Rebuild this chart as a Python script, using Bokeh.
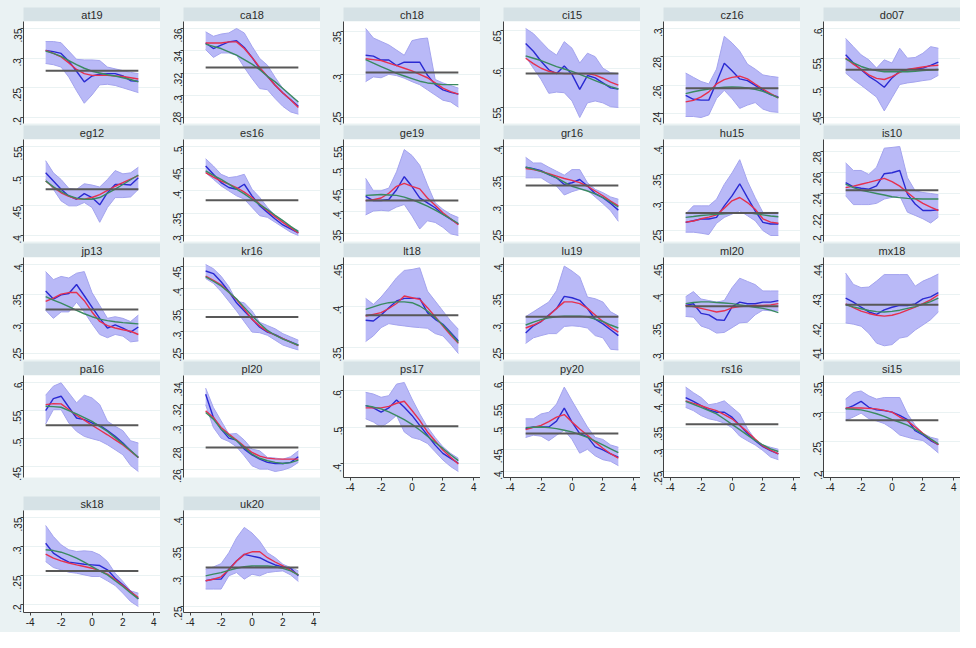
import math
from bokeh.plotting import figure
from bokeh.layouts import gridplot
from bokeh.models import Range1d, FixedTicker
from bokeh.core.properties import value
from bokeh.embed import file_html
from bokeh.resources import INLINE

# ---------------- data ----------------
X_BINS = [-3.0, -2.5, -2.0, -1.5, -1.0, -0.5, 0.0, 0.5, 1.0, 1.5, 2.0, 2.5, 3.0]
X_TICK_LABELS = ["-4", "-2", "0", "2", "4"]

at19_ticks = [".2", ".25", ".3", ".35"]
at19_mean = 0.279
at19_hi = [.328, .328, .326, .312, .298, .297, .297, .296, .285, .282, .279, .276, .274]
at19_lo = [.291, .289, .285, .268, .245, .224, .238, .255, .256, .254, .250, .246, .242]
at19_blue = [.313, .311, .308, .295, .278, .260, .270, .273, .274, .274, .270, .262, .261]
at19_red = [.313, .308, .302, .292, .281, .274, .271, .271, .271, .270, .269, .267, .265]
at19_green = [.312, .308, .303, .296, .289, .283, .278, .275, .272, .270, .267, .264, .260]

ca18_ticks = [".28", ".3", ".32", ".34", ".36"]
ca18_mean = 0.325
ca18_hi = [.357, .353, .355, .356, .360, .356, .344, .333, .327, .316, .306, .299, .294]
ca18_lo = [.341, .334, .338, .338, .336, .325, .315, .306, .305, .297, .290, .285, .283]
ca18_blue = [.347, .342, .345, .348, .349, .343, .334, .324, .317, .309, .302, .296, .290]
ca18_red = [.347, .347, .347, .348, .348, .342, .334, .325, .317, .309, .302, .296, .289]
ca18_green = [.346, .344, .342, .339, .336, .332, .328, .323, .317, .312, .306, .300, .294]

ch18_ticks = [".25", ".3", ".35"]
ch18_mean = 0.302
ch18_hi = [.353, .342, .338, .334, .328, .322, .339, .341, .342, .294, .290, .287, .284]
ch18_lo = [.2915, .297, .296, .300, .2985, .2955, .2915, .288, .282, .276, .270, .268, .262]
ch18_blue = [.322, .321, .3165, .3165, .310, .314, .314, .314, .299, .288, .282, .279, .277]
ch18_red = [.318, .317, .316, .313, .310, .307, .304, .300, .296, .290, .284, .280, .277]
ch18_green = [.317, .313, .309, .305, .301, .298, .295, .292, .290, .289, .288, .288, .288]

ci15_ticks = [".55", ".6", ".65"]
ci15_mean = 0.594
ci15_hi = [.6526, .646, .6355, .625, .618, .6355, .627, .6077, .6205, .616, .601, .595, .594]
ci15_lo = [.616, .601, .5863, .5684, .570, .5692, .5585, .537, .556, .5585, .556, .551, .550]
ci15_blue = [.633, .623, .610, .599, .594, .604, .593, .5735, .5915, .5885, .582, .5755, .574]
ci15_red = [.614, .607, .601, .597, .595, .594, .594, .594, .594, .592, .588, .583, .579]
ci15_green = [.617, .614, .611, .607, .603, .600, .597, .593, .589, .585, .581, .577, .574]

cz16_ticks = [".24", ".26", ".28", ".3"]
cz16_mean = 0.258
cz16_hi = [.2687, .2657, .2628, .2611, .2715, .2945, .2899, .2841, .275, .2715, .2674, .2664, .2657]
cz16_lo = [.2382, .2382, .2375, .2393, .2508, .2566, .2508, .2439, .2462, .248, .2434, .2416, .2411]
cz16_blue = [.2531, .2503, .2497, .2497, .2623, .2756, .2703, .2646, .2634, .26, .2566, .2536, .252]
cz16_red = [.2485, .2495, .252, .2555, .2611, .2641, .2657, .2665, .2646, .261, .2575, .2543, .2513]
cz16_green = [.2543, .2556, .2566, .2575, .2582, .2587, .2589, .2588, .2582, .2573, .2559, .2538, .2513]

do07_ticks = [".45", ".5", ".55", ".6"]
do07_mean = 0.5306
do07_hi = [.5833, .5694, .5556, .5472, .5333, .5472, .5417, .5667, .55, .5511, .5583, .5694, .5667]
do07_lo = [.525, .5139, .5044, .4944, .4844, .4611, .4833, .5056, .5083, .51, .5122, .5139, .5211]
do07_blue = [.5556, .5417, .5306, .5194, .5111, .5011, .5167, .5278, .5306, .5322, .5333, .5378, .5433]
do07_red = [.550, .540, .531, .522, .516, .514, .519, .526, .531, .533, .535, .537, .538]
do07_green = [.549, .542, .536, .532, .529, .527, .527, .527, .527, .528, .529, .530, .531]

eg12_ticks = [".4", ".45", ".5", ".55"]
eg12_mean = 0.478
eg12_hi = [.5261, .5056, .4944, .4794, .4778, .4872, .485, .4817, .4944, .5094, .5039, .5056, .515]
eg12_lo = [.4944, .4778, .4583, .45, .45, .4556, .4472, .4222, .4472, .4639, .4639, .465, .4778]
eg12_blue = [.5056, .4917, .4778, .4667, .4611, .4706, .4639, .4517, .4722, .4861, .4861, .485, .4972]
eg12_red = [.492, .481, .472, .466, .462, .461, .464, .469, .476, .483, .489, .495, .501]
eg12_green = [.492, .482, .474, .467, .463, .461, .461, .464, .471, .478, .486, .494, .502]

es16_ticks = [".3", ".35", ".4", ".45", ".5"]
es16_mean = 0.379
es16_hi = [.4724, .456, .4373, .4299, .4321, .4373, .4037, .3851, .3627, .344, .3328, .3179, .3104]
es16_lo = [.441, .4261, .4112, .40, .3888, .3813, .3627, .344, .3403, .3291, .3179, .3067, .2993]
es16_blue = [.456, .4373, .4187, .4075, .4037, .4149, .3888, .3664, .3515, .3366, .3231, .3142, .3052]
es16_red = [.441, .431, .422, .415, .4075, .397, .385, .370, .355, .342, .329, .317, .305]
es16_green = [.445, .435, .426, .415, .404, .393, .381, .369, .3575, .345, .333, .320, .308]

ge19_ticks = [".35", ".4", ".45", ".5", ".55"]
ge19_mean = 0.425
ge19_hi = [.4764, .4477, .4477, .4538, .4915, .5428, .5292, .5066, .4613, .4198, .4047, .3934, .3858]
ge19_lo = [.3919, .4009, .4025, .4009, .41, .416, .3896, .3594, .3783, .3745, .3632, .3481, .3443]
ge19_blue = [.4349, .4251, .4251, .4274, .45, .4802, .4575, .4311, .4198, .4085, .3934, .3821, .3708]
ge19_red = [.425, .427, .431, .442, .458, .465, .458, .452, .431, .414, .397, .383, .369]
ge19_green = [.437, .438, .439, .438, .437, .433, .427, .420, .412, .403, .393, .383, .372]

gr16_ticks = [".25", ".3", ".35", ".4"]
gr16_mean = 0.3344
gr16_hi = [.3817, .3722, .3722, .365, .3583, .3517, .3611, .3611, .3389, .3278, .3222, .315, .3111]
gr16_lo = [.3472, .3472, .3472, .3389, .3333, .3183, .3239, .3278, .3261, .315, .3039, .2917, .2739]
gr16_blue = [.365, .3628, .3594, .3528, .3472, .3361, .3389, .3444, .3333, .3206, .3139, .3039, .2928]
gr16_red = [.363, .361, .358, .354, .350, .346, .343, .339, .333, .325, .317, .308, .300]
gr16_green = [.365, .362, .358, .353, .347, .340, .333, .329, .325, .320, .314, .306, .298]

hu15_ticks = [".25", ".3", ".35", ".4"]
hu15_mean = 0.2812
hu15_hi = [.2794, .2941, .2941, .2941, .3059, .3324, .3529, .3765, .3382, .3088, .2824, .2824, .2824]
hu15_lo = [.2471, .2471, .2453, .2429, .2629, .2735, .2794, .2853, .2765, .2676, .25, .2412, .2412]
hu15_blue = [.2647, .2676, .2706, .2706, .2735, .2941, .3118, .3335, .3088, .2853, .2647, .2618, .2618]
hu15_red = [.265, .267, .271, .274, .278, .290, .303, .309, .300, .288, .271, .265, .263]
hu15_green = [.2735, .275, .277, .278, .279, .280, .281, .282, .282, .280, .278, .276, .2747]

is10_ticks = [".2", ".22", ".24", ".26", ".28"]
is10_mean = 0.2431
is10_hi = [.2691, .2619, .2619, .2581, .265, .2831, .2838, .2847, .255, .2425, .2409, .24, .2388]
is10_lo = [.2378, .2294, .2294, .2294, .2306, .2347, .2363, .2378, .2222, .2191, .2159, .2119, .2175]
is10_blue = [.2503, .2463, .245, .2441, .2472, .2588, .2597, .2619, .2394, .23, .2238, .2238, .2244]
is10_red = [.2456, .2470, .2488, .2506, .2525, .2544, .2512, .2470, .2410, .2350, .2306, .2270, .2238]
is10_green = [.2488, .2455, .2431, .2415, .240, .2385, .2369, .236, .2353, .2350, .2347, .2347, .2347]

jp13_ticks = [".25", ".3", ".35", ".4"]
jp13_mean = 0.324
jp13_hi = [.388, .3745, .3799, .3772, .3853, .388, .3527, .331, .3092, .312, .3092, .3038, .3147]
jp13_lo = [.3228, .3092, .3201, .3201, .3364, .3201, .30, .2821, .2766, .2821, .2793, .2696, .2712]
jp13_blue = [.3554, .3418, .3489, .3511, .3663, .3473, .3283, .3092, .2929, .2984, .2929, .2859, .2946]
jp13_red = [.338, .3435, .350, .3527, .3527, .339, .320, .304, .297, .293, .290, .2875, .282]
jp13_green = [.3457, .340, .3348, .329, .3228, .317, .312, .308, .3054, .3035, .302, .301, .300]

kr16_ticks = [".25", ".3", ".35", ".4", ".45"]
kr16_mean = 0.334
kr16_hi = [.4545, .4448, .4276, .4037, .3701, .3664, .3478, .3216, .3142, .3067, .2955, .2881, .2806]
kr16_lo = [.4224, .4112, .3925, .3701, .3478, .3231, .2993, .2978, .2918, .2806, .2694, .2634, .2582]
kr16_blue = [.4396, .4336, .4149, .3925, .3664, .3478, .3291, .3104, .2993, .2933, .2843, .2769, .2694]
kr16_red = [.4276, .418, .4075, .391, .374, .352, .329, .313, .301, .292, .284, .276, .268]
kr16_green = [.4261, .416, .4052, .391, .375, .356, .337, .319, .303, .292, .283, .276, .269]

lt18_ticks = [".35", ".4", ".45"]
lt18_mean = 0.389
lt18_hi = [.4092, .402, .4108, .422, .434, .4428, .444, .446, .418, .406, .394, .382, .372]
lt18_lo = [.3572, .364, .374, .3788, .3772, .376, .3748, .374, .3732, .3668, .364, .354, .3428]
lt18_blue = [.3828, .382, .3892, .398, .406, .4092, .4092, .4092, .392, .384, .378, .368, .358]
lt18_red = [.388, .390, .392, .397, .403, .412, .410, .408, .398, .387, .376, .365, .355]
lt18_green = [.396, .399, .402, .404, .405, .405, .404, .400, .394, .386, .377, .367, .356]

lu19_ticks = [".25", ".3", ".35", ".4"]
lu19_mean = 0.312
lu19_hi = [.3121, .3203, .3286, .3368, .356, .3973, .389, .3791, .3451, .3423, .3368, .3203, .3132]
lu19_lo = [.267, .2764, .2802, .2835, .2835, .2956, .2967, .2956, .2929, .2802, .2764, .2571, .256]
lu19_blue = [.2846, .2967, .3038, .3148, .3258, .3462, .344, .3396, .3258, .3077, .30, .2901, .2802]
lu19_red = [.293, .298, .304, .314, .326, .337, .337, .334, .326, .315, .304, .294, .286]
lu19_green = [.298, .303, .307, .310, .312, .313, .313, .313, .312, .308, .304, .298, .293]

ml20_ticks = [".3", ".35", ".4", ".45"]
ml20_mean = 0.3796
ml20_hi = [.3957, .4043, .3919, .3892, .3866, .3892, .4108, .4269, .4215, .4161, .4054, .4054, .4054]
ml20_lo = [.3624, .3613, .3462, .3419, .3344, .3355, .3435, .3516, .3527, .3651, .3731, .372, .372]
ml20_blue = [.3812, .3839, .3677, .3651, .357, .3559, .3785, .3866, .3839, .3839, .3866, .3866, .3892]
ml20_red = [.381, .379, .376, .373, .370, .372, .377, .379, .380, .381, .381, .382, .384]
ml20_green = [.384, .386, .387, .387, .386, .385, .384, .382, .380, .378, .376, .373, .369]

mx18_ticks = [".41", ".42", ".43", ".44"]
mx18_mean = 0.4264
mx18_hi = [.4371, .4333, .4322, .4324, .4344, .4366, .4366, .4366, .4366, .4327, .4344, .4355, .4368]
mx18_lo = [.4203, .4199, .4192, .4168, .4135, .4126, .413, .4152, .4157, .4179, .4196, .4214, .424]
mx18_blue = [.4287, .4273, .4256, .424, .4232, .4247, .4256, .4262, .4262, .4267, .4284, .4291, .4305]
mx18_red = [.4267, .4255, .4243, .4235, .4229, .4226, .4229, .4236, .4246, .4256, .4268, .4281, .4298]
mx18_green = [.4264, .4257, .4251, .4245, .4241, .4240, .4242, .4246, .4252, .4258, .4266, .4275, .4287]

pa16_ticks = [".45", ".5", ".55", ".6"]
pa16_mean = 0.5238
pa16_hi = [.5774, .5935, .5994, .5815, .5637, .5774, .5726, .5607, .531, .522, .5143, .4964, .4923]
pa16_lo = [.5262, .5518, .5518, .528, .5131, .5042, .50, .4964, .4893, .4804, .4714, .4524, .4417]
pa16_blue = [.55, .5714, .5756, .556, .5369, .5339, .528, .5238, .5143, .5042, .4923, .4786, .4667]
pa16_red = [.5607, .5625, .5619, .552, .5417, .533, .524, .5155, .507, .498, .489, .478, .4667]
pa16_green = [.5577, .557, .556, .550, .544, .5375, .531, .522, .513, .502, .4905, .479, .4667]

pl20_ticks = [".26", ".28", ".3", ".32", ".34"]
pl20_mean = 0.280
pl20_hi = [.3348, .3169, .3046, .2923, .2929, .2868, .2785, .2769, .2708, .2702, .2692, .2714, .2769]
pl20_lo = [.3194, .2985, .2886, .2855, .2806, .2723, .2631, .26, .26, .2578, .2591, .2615, .2662]
pl20_blue = [.3292, .3077, .2969, .2886, .2868, .2785, .2732, .2692, .2662, .2652, .2652, .2662, .2714]
pl20_red = [.3138, .3077, .2985, .2925, .2868, .281, .2754, .272, .2702, .2695, .2692, .2692, .2692]
pl20_green = [.3123, .3062, .2969, .291, .2862, .280, .2738, .270, .2677, .2662, .2652, .2660, .2683]

ps17_ticks = [".4", ".5", ".6"]
ps17_mean = 0.5018
ps17_hi = [.5938, .5893, .5804, .5848, .6161, .6205, .5759, .5357, .50, .4714, .4464, .4286, .4152]
ps17_lo = [.5223, .5134, .50, .5134, .5313, .4866, .4714, .4661, .4554, .433, .4107, .3929, .3795]
ps17_blue = [.558, .5518, .5402, .5518, .5732, .5536, .5313, .5045, .4777, .4509, .4286, .4152, .4018]
ps17_red = [.5518, .5518, .5518, .556, .5643, .5696, .5446, .5179, .4866, .462, .4375, .418, .400]
ps17_green = [.558, .554, .549, .541, .531, .520, .507, .492, .475, .458, .442, .425, .409]

py20_ticks = [".4", ".45", ".5", ".55", ".6"]
py20_mean = 0.4853
py20_hi = [.5184, .5184, .5294, .5331, .5515, .5897, .5588, .5294, .50, .4765, .4721, .4596, .4544]
py20_lo = [.4765, .4816, .4794, .4691, .4816, .4926, .4721, .4412, .45, .4353, .4265, .4228, .4132]
py20_blue = [.4963, .50, .50, .50, .5132, .5426, .511, .4853, .4779, .4559, .4485, .4397, .4324]
py20_red = [.4941, .499, .5037, .512, .5221, .5279, .511, .4955, .4816, .466, .4522, .440, .4301]
py20_green = [.4985, .4995, .50, .4985, .4963, .4928, .489, .483, .4765, .468, .4596, .451, .4426]

rs16_ticks = [".25", ".3", ".35", ".4", ".45"]
rs16_mean = 0.3559
rs16_hi = [.4397, .4272, .4162, .40, .4029, .4088, .3941, .3794, .3463, .3221, .3096, .3044, .30]
rs16_lo = [.3941, .3868, .3757, .3684, .3647, .3588, .3485, .3294, .3191, .3096, .2971, .2824, .2765]
rs16_blue = [.4162, .4074, .3978, .3882, .3831, .3831, .3721, .3537, .3353, .3191, .3059, .2971, .2897]
rs16_red = [.4088, .403, .3978, .392, .3868, .378, .3684, .354, .339, .323, .3074, .298, .2897]
rs16_green = [.4074, .401, .3941, .387, .3794, .368, .3559, .344, .3316, .320, .3096, .301, .2949]

si15_ticks = [".2", ".25", ".3", ".35"]
si15_mean = 0.2863
si15_hi = [.322, .333, .3357, .3275, .322, .3247, .3247, .3247, .2973, .278, .2643, .2577, .2544]
si15_lo = [.2863, .2918, .2984, .289, .2852, .2808, .2725, .2615, .2577, .2544, .2522, .2423, .2313]
si15_blue = [.3055, .311, .3181, .3082, .3038, .3027, .30, .2945, .2874, .2687, .2615, .2522, .2451]
si15_red = [.3071, .3072, .3071, .3064, .3055, .303, .300, .2918, .2852, .275, .2643, .254, .2451]
si15_green = [.3055, .3048, .3038, .301, .2973, .293, .2874, .283, .278, .271, .2632, .255, .2467]

sk18_ticks = [".2", ".25", ".3", ".35"]
sk18_mean = 0.258
sk18_hi = [.3362, .3172, .3029, .2943, .2914, .2925, .2914, .2856, .2741, .254, .2397, .2236, .2195]
sk18_lo = [.2741, .2638, .2598, .2557, .254, .2511, .2483, .2483, .2408, .2328, .2195, .2052, .1966]
sk18_blue = [.3057, .2885, .2799, .273, .2713, .2695, .2684, .2672, .2598, .2454, .2339, .2224, .2098]
sk18_red = [.2868, .280, .2753, .2715, .2684, .2655, .2626, .258, .2523, .243, .2328, .222, .2121]
sk18_green = [.2943, .293, .2902, .2855, .2799, .273, .2655, .258, .2511, .241, .231, .220, .2098]

uk20_ticks = [".25", ".3", ".35", ".4"]
uk20_mean = 0.3156
uk20_hi = [.3128, .3167, .3222, .3406, .3656, .3833, .3739, .36, .3406, .3322, .3211, .3156, .31]
uk20_lo = [.2794, .2794, .2794, .3017, .3072, .2961, .3044, .3017, .3072, .3089, .31, .3033, .2922]
uk20_blue = [.2933, .2961, .2961, .3128, .3267, .3378, .335, .3322, .3256, .32, .3167, .3144, .3017]
uk20_red = [.2933, .296, .30, .312, .3267, .3378, .3422, .3422, .3322, .325, .3183, .311, .3033]
uk20_green = [.3017, .3045, .3072, .311, .3144, .317, .3183, .3185, .3183, .317, .3144, .310, .3033]

PANEL_NAMES = ["at19", "ca18", "ch18", "ci15", "cz16", "do07",
               "eg12", "es16", "ge19", "gr16", "hu15", "is10",
               "jp13", "kr16", "lt18", "lu19", "ml20", "mx18",
               "pa16", "pl20", "ps17", "py20", "rs16", "si15",
               "sk18", "uk20"]

# ---------------- style ----------------
BG = "#eaf2f3"
STRIP = "#d6e2e6"
BAND_FILL = "#b9b9f7"
BAND_EDGE = "#a4a4ee"
C_BLUE = "#2a2ad2"
C_RED = "#e6304e"
C_GREEN = "#3a8a60"
C_MEAN = "#585858"
AXIS_C = "#404040"
FONT = "Liberation Sans"

NCOLS = 6
COL_W = 160
LEFT = 23
STRIP_H = 14
TOP_PAD = 7
FRAME_H = 102
XPAD = 0.434

g = globals()


def make_strip(name, r):
    top = TOP_PAD if r == 0 else 0
    p = figure(width=COL_W, height=STRIP_H + top, title=None,
               x_range=Range1d(-1, 1), y_range=Range1d(-1, 1),
               x_axis_type=None, y_axis_type=None,
               toolbar_location=None, output_backend="svg",
               min_border_left=LEFT, min_border_right=0,
               min_border_top=top, min_border_bottom=0,
               background_fill_color=STRIP, border_fill_color=BG,
               outline_line_color=None)
    p.text(x=[0], y=[0], text=[name], text_align="center", text_baseline="middle",
           text_font=value(FONT), text_font_size="11px", text_color="#2a2a2a")
    return p


def make_panel(name, r, c):
    has_x = (r == 4) or (r == 3 and c >= 2)
    if r <= 2:
        bottom = 2
    elif r == 3:
        bottom = 19
    else:
        bottom = 20
    ticks_s = g[name + "_ticks"]
    ticks = [float(t) for t in ticks_s]
    mean = g[name + "_mean"]
    lo = g[name + "_lo"]
    hi = g[name + "_hi"]
    blue = g[name + "_blue"]
    red = g[name + "_red"]
    green = g[name + "_green"]
    allv = lo + hi + blue + red + green + ticks
    vmin, vmax = min(allv), max(allv)
    span = vmax - vmin
    y0 = vmin - span * 6.0 / 89.0
    y1 = vmax + span * 7.0 / 89.0
    xt = [float(t) for t in X_TICK_LABELS]
    p = figure(width=COL_W, height=FRAME_H + bottom, title=None,
               x_range=Range1d(min(xt) - XPAD, max(xt) + XPAD),
               y_range=Range1d(y0, y1),
               x_axis_type=("linear" if has_x else None),
               toolbar_location=None, output_backend="svg",
               min_border_left=LEFT, min_border_right=0,
               min_border_top=0, min_border_bottom=bottom,
               background_fill_color="white", border_fill_color=BG,
               outline_line_color=None)
    # y axis
    yax = p.yaxis[0]
    yax.ticker = FixedTicker(ticks=ticks)
    yax.major_label_overrides = {float(t): t for t in ticks_s}
    yax.major_label_orientation = math.pi / 2
    yax.major_label_text_font = FONT
    yax.major_label_text_font_size = "10px"
    yax.major_label_text_color = "#222222"
    yax.major_label_standoff = 3
    yax.major_tick_out = 3
    yax.major_tick_in = 0
    yax.minor_tick_out = 0
    yax.minor_tick_in = 0
    yax.minor_tick_line_color = None
    yax.axis_line_color = AXIS_C
    yax.major_tick_line_color = AXIS_C
    p.ygrid.ticker = FixedTicker(ticks=ticks)
    p.ygrid.grid_line_color = BG
    p.ygrid.grid_line_width = 1
    if has_x:
        xax = p.xaxis[0]
        xax.ticker = FixedTicker(ticks=xt)
        xax.major_label_overrides = {float(t): t for t in X_TICK_LABELS}
        xax.major_label_text_font = FONT
        xax.major_label_text_font_size = "10px"
        xax.major_label_text_color = "#222222"
        xax.major_label_standoff = 2
        xax.major_tick_out = 3
        xax.major_tick_in = 0
        xax.minor_tick_out = 0
        xax.minor_tick_in = 0
        xax.minor_tick_line_color = None
        xax.axis_line_color = AXIS_C
        xax.major_tick_line_color = AXIS_C
        p.xgrid.visible = False
    # marks
    p.varea(x=X_BINS, y1=lo, y2=hi, fill_color=BAND_FILL, fill_alpha=1.0)
    p.line(X_BINS, lo, line_color=BAND_EDGE, line_width=1)
    p.line(X_BINS, hi, line_color=BAND_EDGE, line_width=1)
    p.line(X_BINS, blue, line_color=C_BLUE, line_width=1.4)
    p.line(X_BINS, red, line_color=C_RED, line_width=1.4)
    p.line(X_BINS, green, line_color=C_GREEN, line_width=1.4)
    p.line([X_BINS[0], X_BINS[-1]], [mean, mean], line_color=C_MEAN, line_width=2)
    return p


def make_blank(h):
    p = figure(width=COL_W, height=h, title=None, x_axis_type=None, y_axis_type=None,
               toolbar_location=None, output_backend="svg",
               min_border_left=0, min_border_right=0, min_border_top=0, min_border_bottom=0,
               background_fill_color=BG, border_fill_color=BG, outline_line_color=None)
    return p


nrows = (len(PANEL_NAMES) + NCOLS - 1) // NCOLS
rows = []
for r in range(nrows):
    srow, prow = [], []
    for c in range(NCOLS):
        i = r * NCOLS + c
        if i < len(PANEL_NAMES):
            name = PANEL_NAMES[i]
            srow.append(make_strip(name, r))
            prow.append(make_panel(name, r, c))
        else:
            srow.append(make_blank(STRIP_H))
            prow.append(make_blank(FRAME_H + 20))
    rows.append(srow)
    rows.append(prow)

grid = gridplot(rows, toolbar_location=None)
grid.styles = {"background-color": BG}

open("out.html", "w").write(file_html(grid, INLINE))
